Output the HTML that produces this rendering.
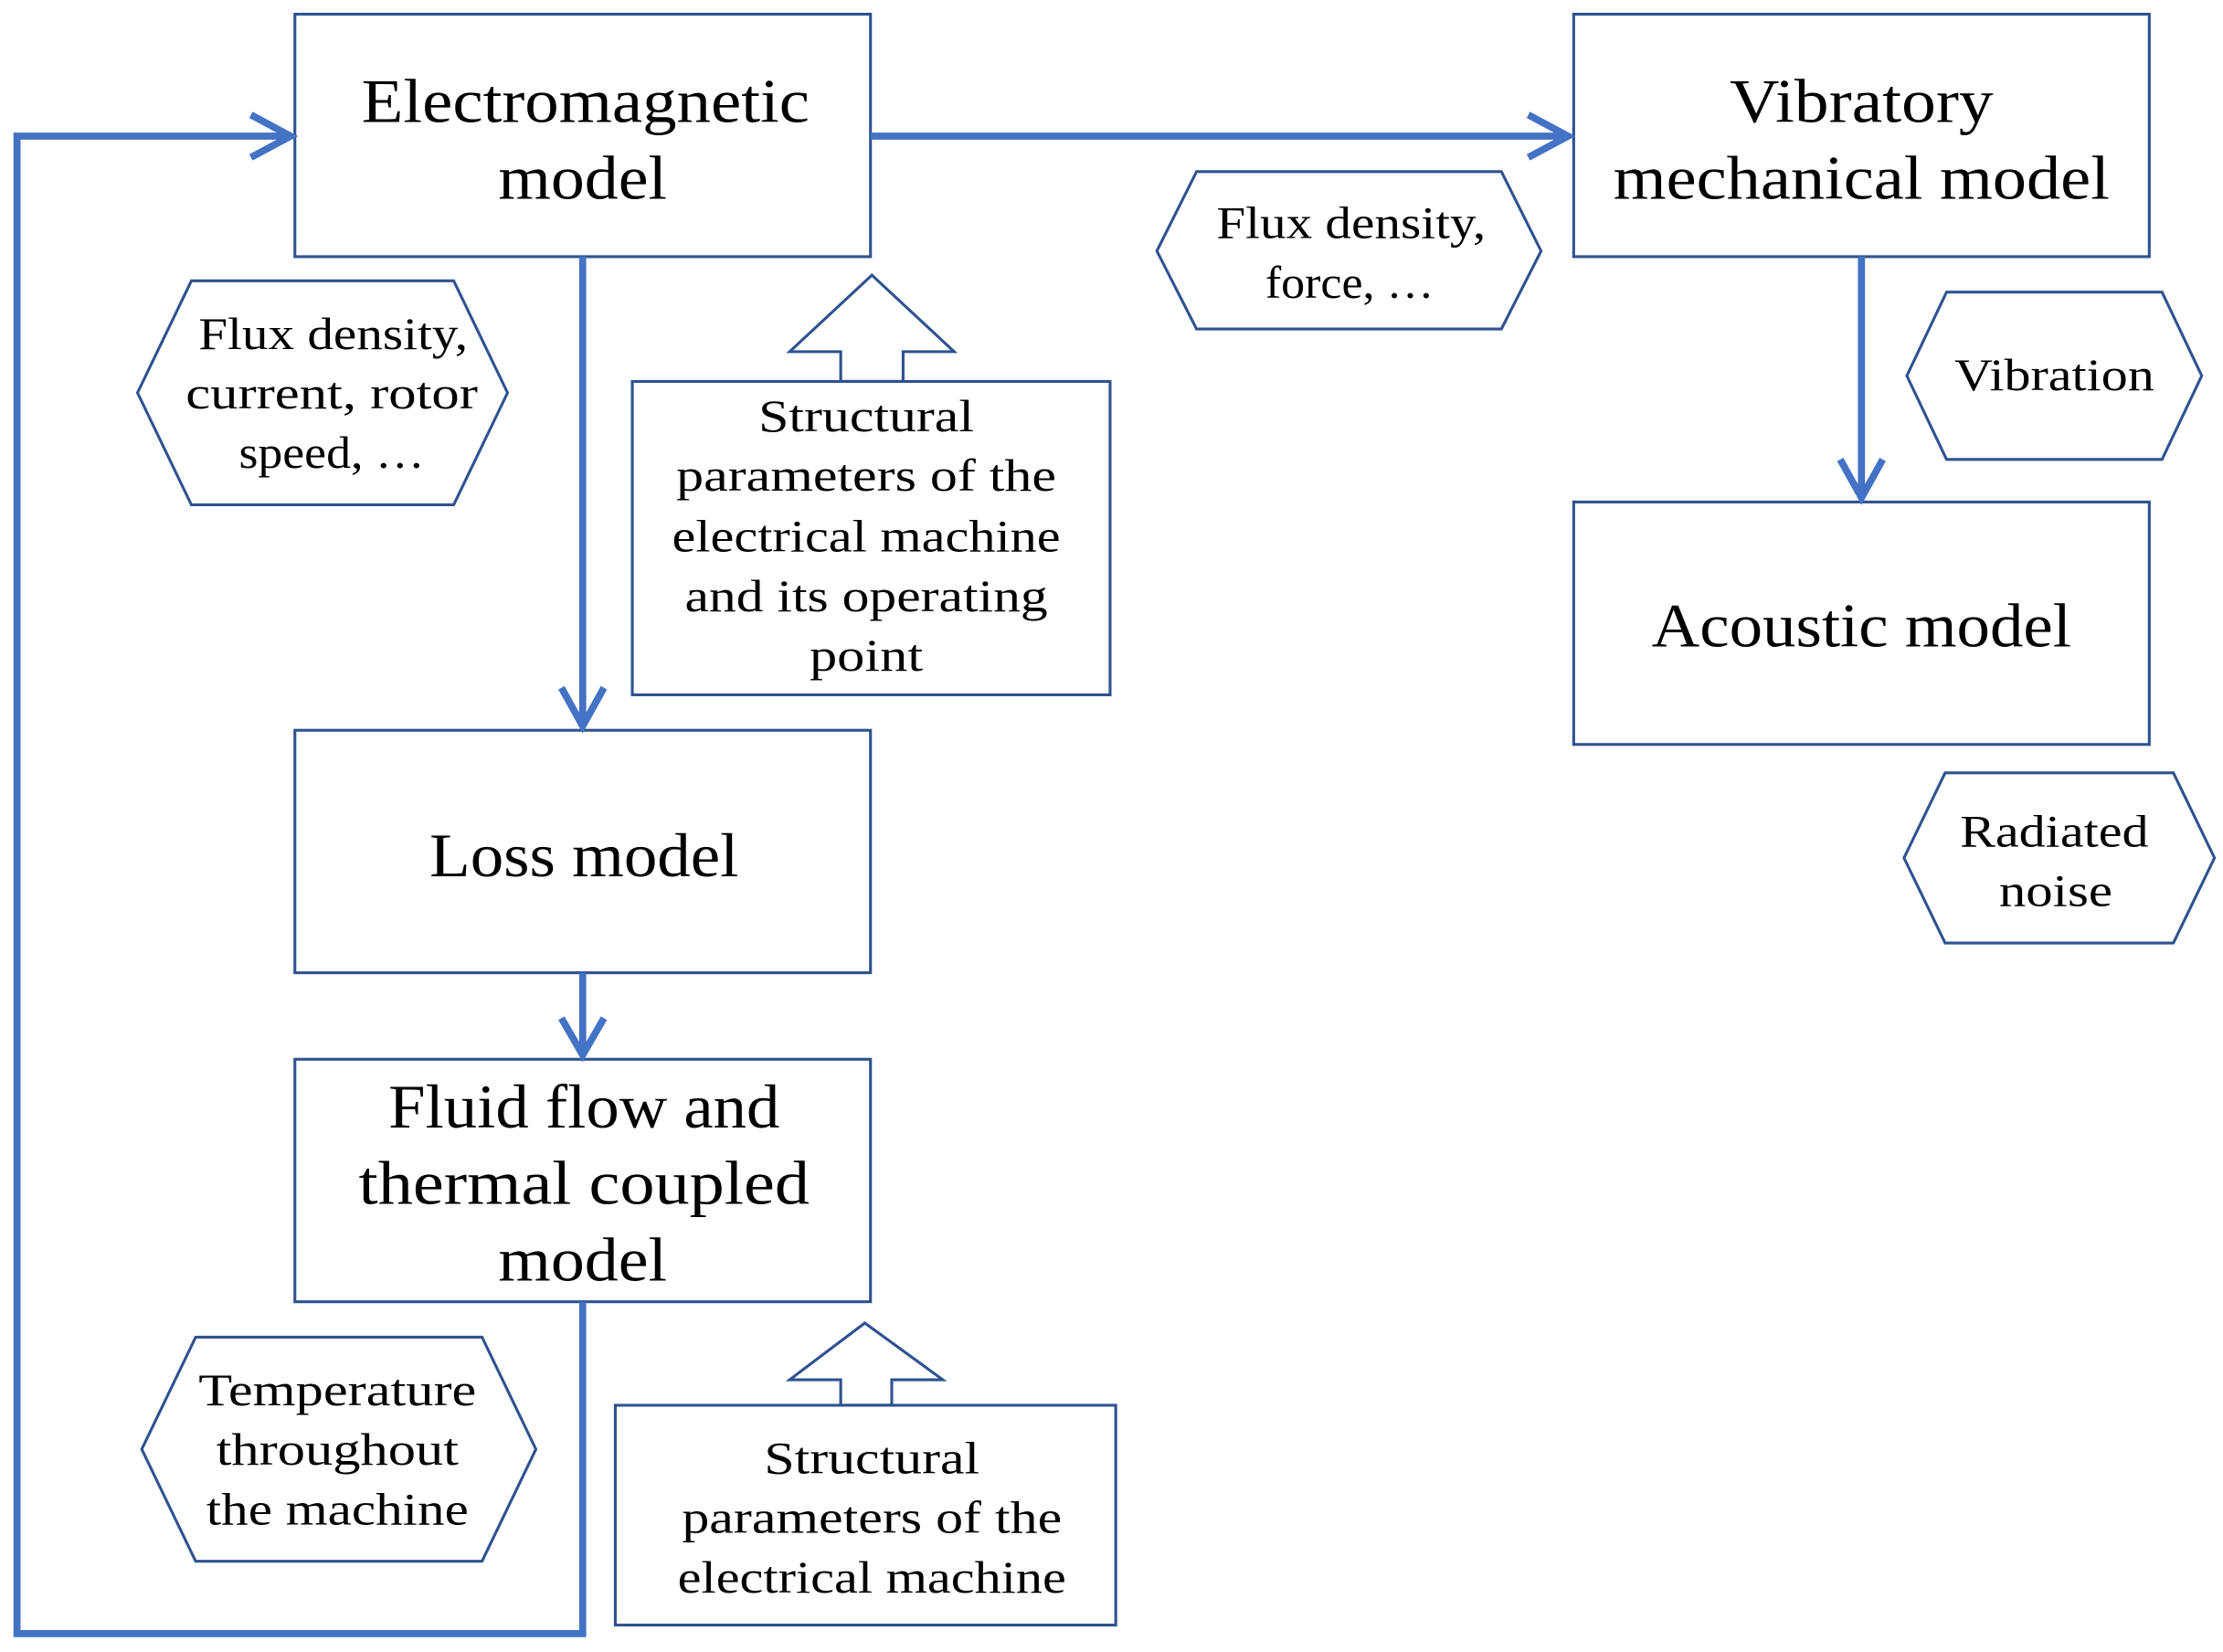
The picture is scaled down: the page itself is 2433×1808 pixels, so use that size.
<!DOCTYPE html>
<html><head><meta charset="utf-8"><style>
html,body{margin:0;padding:0;background:#fff;}
svg{display:block}
text{font-family:"Liberation Serif",serif;fill:#000;text-anchor:middle}
.b{font-size:44px}
.s{font-size:32px}
</style></head><body>
<svg width="2433" height="1808" viewBox="0 0 1568 1165" preserveAspectRatio="none" xmlns="http://www.w3.org/2000/svg">
<g fill="none" stroke="#2F528F" stroke-width="2">
<rect x="208" y="10" width="406" height="171"/>
<rect x="1110" y="10" width="406" height="171"/>
<rect x="1110" y="354" width="406" height="171"/>
<rect x="208" y="515" width="406" height="171"/>
<rect x="208" y="747" width="406" height="171"/>
<rect x="446" y="269" width="337" height="221"/>
<rect x="434" y="991" width="353" height="155"/>
<polygon points="593,269 593,248 557,248 615,194 673,248 637,248 637,269"/>
<polygon points="593,991 593,973 557,973 610,933 665,973 629,973 629,991"/>
<polygon points="97,277 135,198 320,198 358,277 320,356 135,356"/>
<polygon points="816,177 844,121 1059,121 1087,177 1059,232 844,232"/>
<polygon points="1345,265 1373,206 1525,206 1553,265 1525,324 1373,324"/>
<polygon points="1343,605 1372,545 1533,545 1562,605 1533,665 1372,665"/>
<polygon points="100,1022 138,943 340,943 378,1022 340,1101 138,1101"/>
</g>
<g fill="none" stroke="#4472C4" stroke-width="5" stroke-linejoin="miter">
<line x1="614" y1="96" x2="1105" y2="96"/>
<polyline points="1078,81 1106,96 1078,111"/>
<line x1="411" y1="181" x2="411" y2="511"/>
<polyline points="396,485 411,512 426,485"/>
<line x1="411" y1="686" x2="411" y2="743"/>
<polyline points="396,718 411,744 426,718"/>
<line x1="1313" y1="181" x2="1313" y2="350"/>
<polyline points="1298,324 1313,351 1328,324"/>
<polyline points="411,918 411,1152 12,1152 12,96 204,96"/>
<polyline points="177,81 205,96 177,111"/>
</g>
<g lengthAdjust="spacingAndGlyphs">
<text class="b" x="413" y="86" textLength="316" lengthAdjust="spacingAndGlyphs">Electromagnetic</text>
<text class="b" x="411" y="140" textLength="119" lengthAdjust="spacingAndGlyphs">model</text>
<text class="b" x="1313" y="86" textLength="186" lengthAdjust="spacingAndGlyphs">Vibratory</text>
<text class="b" x="1313" y="140" textLength="350" lengthAdjust="spacingAndGlyphs">mechanical model</text>
<text class="b" x="1313" y="456" textLength="296" lengthAdjust="spacingAndGlyphs">Acoustic model</text>
<text class="b" x="412" y="618" textLength="218" lengthAdjust="spacingAndGlyphs">Loss model</text>
<text class="b" x="412" y="795" textLength="276" lengthAdjust="spacingAndGlyphs">Fluid flow and</text>
<text class="b" x="412" y="849" textLength="318" lengthAdjust="spacingAndGlyphs">thermal coupled</text>
<text class="b" x="411" y="903" textLength="119" lengthAdjust="spacingAndGlyphs">model</text>
<text class="s" x="611" y="304" textLength="152" lengthAdjust="spacingAndGlyphs">Structural</text>
<text class="s" x="611" y="346" textLength="268" lengthAdjust="spacingAndGlyphs">parameters of the</text>
<text class="s" x="611" y="389" textLength="274" lengthAdjust="spacingAndGlyphs">electrical machine</text>
<text class="s" x="611" y="431" textLength="256" lengthAdjust="spacingAndGlyphs">and its operating</text>
<text class="s" x="611" y="473" textLength="80" lengthAdjust="spacingAndGlyphs">point</text>
<text class="s" x="615" y="1039" textLength="152" lengthAdjust="spacingAndGlyphs">Structural</text>
<text class="s" x="615" y="1081" textLength="268" lengthAdjust="spacingAndGlyphs">parameters of the</text>
<text class="s" x="615" y="1123" textLength="274" lengthAdjust="spacingAndGlyphs">electrical machine</text>
<text class="s" x="235" y="246" textLength="190" lengthAdjust="spacingAndGlyphs">Flux density,</text>
<text class="s" x="234" y="288" textLength="206" lengthAdjust="spacingAndGlyphs">current, rotor</text>
<text class="s" x="234" y="330" textLength="131" lengthAdjust="spacingAndGlyphs">speed, …</text>
<text class="s" x="953" y="168" textLength="190" lengthAdjust="spacingAndGlyphs">Flux density,</text>
<text class="s" x="952" y="210" textLength="119" lengthAdjust="spacingAndGlyphs">force, …</text>
<text class="s" x="1449" y="275" textLength="141" lengthAdjust="spacingAndGlyphs">Vibration</text>
<text class="s" x="1449" y="597" textLength="133" lengthAdjust="spacingAndGlyphs">Radiated</text>
<text class="s" x="1450" y="639" textLength="80" lengthAdjust="spacingAndGlyphs">noise</text>
<text class="s" x="238" y="991" textLength="196" lengthAdjust="spacingAndGlyphs">Temperature</text>
<text class="s" x="238" y="1033" textLength="171" lengthAdjust="spacingAndGlyphs">throughout</text>
<text class="s" x="238" y="1075" textLength="185" lengthAdjust="spacingAndGlyphs">the machine</text>
</g>
</svg>
</body></html>
